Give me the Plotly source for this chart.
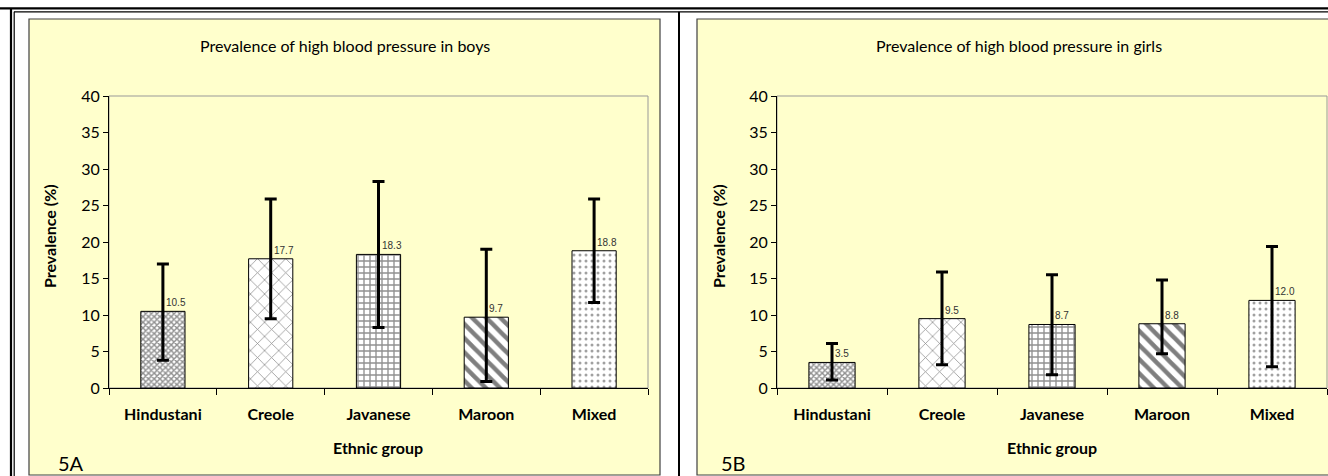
import plotly.graph_objects as go

# ---------------- data ----------------
categories = ["Hindustani", "Creole", "Javanese", "Maroon", "Mixed"]

boys_values = [10.5, 17.7, 18.3, 9.7, 18.8]
boys_upper = [17.0, 25.9, 28.3, 19.0, 25.9]
boys_lower = [3.8, 9.5, 8.3, 0.9, 11.7]

girls_values = [3.5, 9.5, 8.7, 8.8, 12.0]
girls_upper = [6.1, 15.9, 15.5, 14.8, 19.4]
girls_lower = [1.1, 3.2, 1.8, 4.7, 2.9]

y_ticks = [0, 5, 10, 15, 20, 25, 30, 35, 40]

titles = ["Prevalence of high blood pressure in boys",
          "Prevalence of high blood pressure in girls"]
panel_labels = ["5A", "5B"]
x_title = "Ethnic group"
y_title = "Prevalence (%)"

# ---------------- styling ----------------
W, H = 1328, 476
YELLOW = "#FFFFCC"
pat_shapes = ["x", "x", "+", "\\", "."]
pat_sizes = [4, 10, 6, 10, 6]
pat_solid = [0.6, 0.15, 0.4, 0.45, 0.2]
pat_fg = ["#222222", "#222222", "#222222", "#000000", "#444444"]


def px(x):
    return x / W


def py(y):
    return 1 - y / H


fig = go.Figure()

panels = [
    dict(vals=boys_values, up=boys_upper, lo=boys_lower, xa="x", ya="y",
         dom=[px(109), px(648)], width=0.41),
    dict(vals=girls_values, up=girls_upper, lo=girls_lower, xa="x2", ya="y2",
         dom=[px(777), px(1327)], width=0.42),
]

ann = []
for p in panels:
    err_plus = [u - v for u, v in zip(p["up"], p["vals"])]
    err_minus = [v - l for v, l in zip(p["vals"], p["lo"])]
    fig.add_trace(go.Bar(
        x=categories, y=p["vals"], xaxis=p["xa"], yaxis=p["ya"],
        width=p["width"],
        marker=dict(
            color="white",
            line=dict(color="black", width=1),
            pattern=dict(shape=pat_shapes, size=pat_sizes, solidity=pat_solid,
                         fgcolor=pat_fg, bgcolor="white", fillmode="overlay"),
        ),
        error_y=dict(type="data", symmetric=False, array=err_plus,
                     arrayminus=err_minus, color="black", thickness=3, width=6),
        showlegend=False, hoverinfo="skip",
    ))
    for c, v in zip(categories, p["vals"]):
        ann.append(dict(text=f"{v:.1f}", x=c, y=v, xref=p["xa"], yref=p["ya"],
                        showarrow=False, xanchor="left", yanchor="bottom",
                        xshift=1, yshift=1,
                        font=dict(family="Liberation Sans", size=10, color="#333333")))

ydom = [py(388), py(96)]
common_x = dict(type="category", tickson="boundaries", ticks="outside", ticklen=6,
                tickcolor="black", showline=True, linecolor="black", linewidth=1,
                showgrid=False, zeroline=False, mirror=False, ticklabelstandoff=12,
                automargin=False,
                tickfont=dict(family="Lato", size=16, color="black", weight="bold"))
common_y = dict(range=[0, 40], tickvals=y_ticks, ticks="outside", ticklen=5,
                tickcolor="black", showline=True, linecolor="black", linewidth=1,
                showgrid=False, zeroline=False, automargin=False,
                tickfont=dict(family="Lato", size=16, color="black"))

fig.update_layout(
    width=W, height=H, margin=dict(l=0, r=0, t=0, b=0, pad=0, autoexpand=False),
    paper_bgcolor="white", plot_bgcolor=YELLOW,
    xaxis=dict(domain=panels[0]["dom"], anchor="y", **common_x),
    yaxis=dict(domain=ydom, anchor="x", **common_y),
    xaxis2=dict(domain=panels[1]["dom"], anchor="y2", **common_x),
    yaxis2=dict(domain=ydom, anchor="x2", **common_y),
)

shapes = []
# yellow panels
for x0, x1 in [(29, 660), (697, 1340)]:
    shapes.append(dict(type="rect", xref="paper", yref="paper", layer="below",
                       x0=px(x0), x1=px(x1), y0=py(475), y1=py(19),
                       fillcolor=YELLOW, line=dict(color="#404040", width=1.2)))
# plot area frames (gray top/right)
for x0, x1 in [(109, 648), (777, 1327)]:
    shapes.append(dict(type="rect", xref="paper", yref="paper", layer="below",
                       x0=px(x0), x1=px(x1), y0=py(388), y1=py(96),
                       line=dict(color="#999999", width=1)))
# outer double frame
shapes += [
    dict(type="line", xref="paper", yref="paper", x0=0, x1=1, y0=py(8.3), y1=py(8.3),
         line=dict(color="black", width=2.2)),
    dict(type="line", xref="paper", yref="paper", x0=px(14), x1=1, y0=py(11.8), y1=py(11.8),
         line=dict(color="black", width=1.2)),
    dict(type="line", xref="paper", yref="paper", x0=px(11), x1=px(11), y0=0, y1=py(8.3),
         line=dict(color="black", width=2.2)),
    dict(type="line", xref="paper", yref="paper", x0=px(14.2), x1=px(14.2), y0=0, y1=py(11.8),
         line=dict(color="black", width=1.2)),
    dict(type="line", xref="paper", yref="paper", x0=px(679), x1=px(679), y0=0, y1=py(11.8),
         line=dict(color="black", width=2)),
]
fig.update_layout(shapes=shapes)

for title, cx in zip(titles, [345, 1019]):
    ann.append(dict(text=title, xref="paper", yref="paper", x=px(cx), y=py(46),
                    showarrow=False, xanchor="center", yanchor="middle",
                    font=dict(family="Lato", size=16, color="black")))
for cx in [378, 1052]:
    ann.append(dict(text=x_title, xref="paper", yref="paper", x=px(cx), y=py(447),
                    showarrow=False, xanchor="center", yanchor="middle",
                    font=dict(family="Lato", size=16, color="black", weight="bold")))
for cx in [49, 718]:
    ann.append(dict(text=y_title, xref="paper", yref="paper", x=px(cx), y=py(236),
                    showarrow=False, xanchor="center", yanchor="middle", textangle=-90,
                    font=dict(family="Lato", size=16, color="black", weight="bold")))
for lab, lx in zip(panel_labels, [56, 719]):
    ann.append(dict(text=lab, xref="paper", yref="paper", x=px(lx), y=py(463),
                    showarrow=False, xanchor="left", yanchor="middle",
                    font=dict(family="Lato", size=20, color="black")))
fig.update_layout(annotations=ann)

post = """
document.documentElement.style.margin='0';
document.documentElement.style.overflow='hidden';
document.body.style.margin='0';
document.body.style.overflow='hidden';
"""

fig.write_html("out.html", config={"displayModeBar": False}, post_script=post)
